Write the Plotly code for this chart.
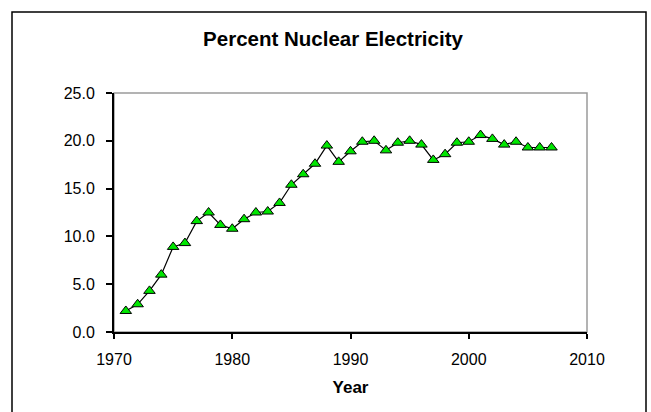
import plotly.graph_objects as go

# Share of electricity generated by nuclear power, by year
years = list(range(1971, 2008))
percent_nuclear = [
    2.2, 2.9, 4.3, 6.0, 8.9, 9.3, 11.6, 12.5, 11.2, 10.8,
    11.8, 12.5, 12.6, 13.5, 15.4, 16.5, 17.6, 19.5, 17.8, 18.9,
    19.9, 20.0, 19.0, 19.8, 20.0, 19.6, 18.0, 18.6, 19.8, 19.9,
    20.6, 20.2, 19.6, 19.9, 19.3, 19.3, 19.3,
]

x_ticks = [1970, 1980, 1990, 2000, 2010]
y_ticks = [0, 5, 10, 15, 20, 25]

W, H = 651, 412
L, R, T, B = 114, 64, 93, 80
pw, ph = W - L - R, H - T - B


def px_x(p):
    return (p - L) / pw


def px_y(p):
    return (H - B - p) / ph


font_family = "Liberation Sans, Arial, sans-serif"

fig = go.Figure()
fig.add_trace(go.Scatter(
    x=years,
    y=percent_nuclear,
    mode="lines+markers",
    line=dict(color="black", width=1.2),
    marker=dict(symbol="triangle-up", size=10, color="#00E600",
                line=dict(color="black", width=1)),
    showlegend=False,
    cliponaxis=False,
))

# plot-area border (grey) and outer chart frame (black)
fig.add_shape(type="rect", xref="paper", yref="paper", x0=0, x1=1, y0=0, y1=1,
              line=dict(color="#9a9a9a", width=1.5), layer="below")
fig.add_shape(type="rect", xref="paper", yref="paper",
              x0=px_x(12), x1=px_x(646), y0=px_y(430), y1=px_y(12),
              line=dict(color="black", width=1.5), layer="below")

fig.update_layout(
    width=W, height=H,
    margin=dict(l=L, r=R, t=T, b=B),
    paper_bgcolor="white", plot_bgcolor="white",
    font=dict(family=font_family, size=16, color="black"),
    title=dict(text="<b>Percent Nuclear Electricity</b>", x=px_x(333), xref="paper",
               xanchor="center", y=1 - 39 / H, yanchor="middle",
               font=dict(size=20.5, family=font_family, color="black")),
)
fig.update_xaxes(
    range=[1970, 2010], tickvals=x_ticks, ticktext=[str(v) for v in x_ticks],
    showgrid=False, zeroline=False,
    showline=True, linecolor="black", linewidth=2,
    ticks="outside", ticklen=5, tickwidth=2, tickcolor="black",
    tickfont=dict(size=16), ticklabelstandoff=7,
    title=dict(text="<b>Year</b>", font=dict(size=17), standoff=14),
)
fig.update_yaxes(
    range=[0, 25], tickvals=y_ticks, ticktext=[f"{v:.1f}" for v in y_ticks],
    showgrid=False, zeroline=False,
    showline=True, linecolor="black", linewidth=2,
    ticks="outside", ticklen=6, tickwidth=2, tickcolor="black",
    tickfont=dict(size=16), ticklabelstandoff=8,
)

fig.write_html("out.html")
